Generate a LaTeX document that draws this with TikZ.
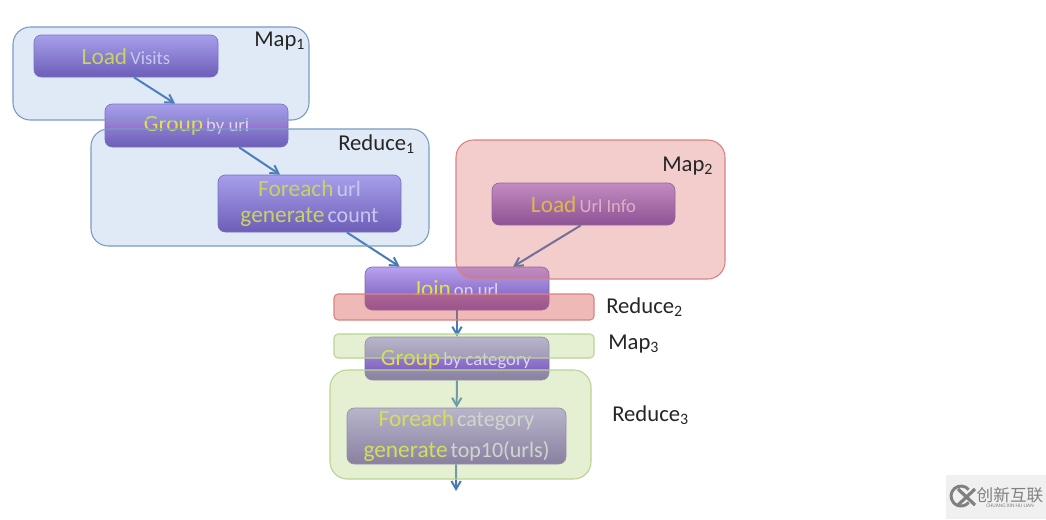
\documentclass[tikz,border=0pt]{standalone}
\usepackage{fontspec}
\setmainfont{Carlito}
\newfontfamily\cjk{Noto Sans CJK SC}
\usetikzlibrary{arrows.meta,calc}
\definecolor{ylw}{RGB}{226,226,70}
\definecolor{pale}{RGB}{222,214,245}
\definecolor{arrowc}{RGB}{72,122,182}
\newcommand{\bx}[7]{%
  \pgfmathsetmacro\cxx{(#2+#4)/2}\pgfmathsetmacro\cyy{(#3+#5)/2}%
  \pgfmathsetmacro\ww{(#4-#2)*0.75}\pgfmathsetmacro\hh{(#5-#3)*0.75}%
  \node[#6,minimum width=\ww pt,minimum height=\hh pt] (#1) at (\cxx,\cyy) {#7};}
\newcommand{\kw}[1]{{\color{ylw}\fontsize{17.5}{21}\selectfont #1}}
\newcommand{\sm}[1]{{\color{pale}\fontsize{14}{21}\selectfont #1}}
\newcommand{\smb}[1]{{\color{pale}\fontsize{16.5}{21}\selectfont #1}}
\tikzset{
  op/.style={draw={rgb,255:red,125;green,105;blue,185},line width=0.5pt,rounded corners=5.5pt,inner sep=0pt,align=center,
    top color={rgb,255:red,184;green,162;blue,240},bottom color={rgb,255:red,112;green,80;blue,176}},
  bluebox/.style={draw={rgb,255:red,120;green,155;blue,195},line width=0.8pt,rounded corners=13pt,inner sep=0pt,
    fill={rgb,255:red,100;green,150;blue,215},fill opacity=0.2},
  redbox/.style={draw={rgb,255:red,218;green,130;blue,130},line width=0.8pt,rounded corners=13pt,inner sep=0pt,
    fill={rgb,255:red,215;green,90;blue,85},fill opacity=0.3},
  redthin/.style={redbox,rounded corners=3pt,fill opacity=0.42},
  greenbox/.style={draw={rgb,255:red,185;green,212;blue,145},line width=0.8pt,rounded corners=13pt,inner sep=0pt,
    fill={rgb,255:red,185;green,215;blue,135},fill opacity=0.36},
  greenthin/.style={greenbox,rounded corners=3pt},
  flow/.style={draw=arrowc,line width=1.5pt,-{Straight Barb[length=6pt,width=7pt]}},
  lbl/.style={text=black!85,font=\fontsize{17}{20}\selectfont,inner sep=0pt,anchor=west},
  optext/.style={inner sep=0pt,align=center},
  wmtext/.style={text=black!50,inner sep=0pt},
}
\begin{document}
\begin{tikzpicture}[x=0.75pt,y=-0.75pt]
\useasboundingbox (0,0) rectangle (1046,519);
\fill[white] (0,0) rectangle (1046,519);
% operator boxes
\bx{load}{34}{35}{218}{77}{op}{\kw{Load} \sm{Visits}}
\bx{group}{105}{104}{288}{147}{op}{\kw{Group} \sm{by url}}
\bx{foreach}{218}{175}{401}{232}{op}{\kw{Foreach} \smb{url}\\[7pt]\kw{generate} \smb{count}}
\bx{loadurl}{492}{183}{675}{225}{op}{\kw{Load} \sm{Url Info}}
\bx{join}{365}{267}{549}{310}{op}{}
\bx{groupcat}{365}{337}{549}{380}{op}{}
\bx{foreachcat}{347}{408}{566}{464}{op}{\kw{Foreach} \smb{category}\\[7pt]\kw{generate} \smb{top10(urls)}}
\begin{scope}
  \clip (300,260) rectangle (600,294);
  \node[optext] (jointext) at (456,289) {\kw{Join} \sm{on url}};
\end{scope}
\begin{scope}
  \clip (300,330) rectangle (600,370);
  \node[optext] (groupcattext) at (456,360) {\kw{Group} \sm{by category}};
\end{scope}
% connectors
\coordinate (out) at (456,491);
\draw[flow] ([xshift=6pt]load.south) -- ([xshift=-16pt]group.north);
\draw[flow] ([xshift=32pt]group.south) -- ([xshift=-22pt]foreach.north);
\draw[flow] ([xshift=28pt]foreach.south) -- ([xshift=-43pt]join.north);
\draw[flow] ([xshift=-2pt]loadurl.south) -- ([xshift=42pt]join.north);
\draw[flow] (join) -- (groupcat);
\draw[flow] (groupcat) -- (foreachcat);
\draw[flow] (foreachcat) -- (out);
% translucent stage boxes on top
\bx{mapa}{13}{27}{309}{120}{bluebox}{}
\bx{reducea}{91}{129}{429}{246}{bluebox}{}
\bx{mapb}{456}{140}{725}{279}{redbox}{}
\bx{reduceb}{334}{294}{594}{320}{redthin}{}
\bx{mapc}{334}{334}{594}{358}{greenthin}{}
\bx{reducec}{330}{370}{591}{479}{greenbox}{}
% stage labels
\node[lbl] (lmapa) at (254,41) {Map\textsubscript{1}};
\node[lbl] (lreducea) at (338,144) {Reduce\textsubscript{1}};
\node[lbl] (lmapb) at (662,166) {Map\textsubscript{2}};
\node[lbl] (lreduceb) at (606,307) {Reduce\textsubscript{2}};
\node[lbl] (lmapc) at (608,344) {Map\textsubscript{3}};
\node[lbl] (lreducec) at (612,415) {Reduce\textsubscript{3}};
% watermark
\fill[black!6] (946,475) rectangle (1046,519);
\draw[black!50,line width=2.2pt] (968.7,489.6) arc (-40:-320:10);
\draw[black!50,line width=2.4pt] (958,489) -- (975,505) (975,489) -- (958,505);
\node[wmtext,font=\cjk\fontsize{12.5}{14}\selectfont] (wma) at (1010,495) {创新互联};
\node[wmtext,font=\fontsize{4}{5}\selectfont] (wmb) at (1010,506) {CHUANG XIN HU LIAN};
\end{tikzpicture}
\end{document}
